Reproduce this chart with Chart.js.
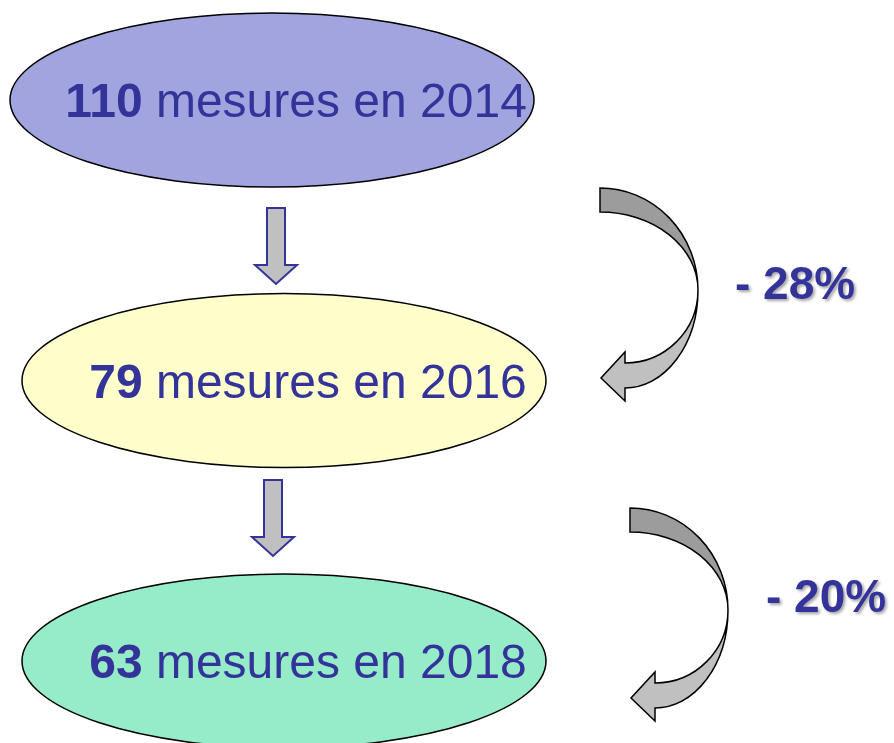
<!DOCTYPE html>
<html>
<head>
<meta charset="utf-8">
<script src="https://cdn.jsdelivr.net/npm/chart.js@4/dist/chart.umd.min.js"></script>
<style>
    body { margin: 0; background: #ffffff; }
    canvas { display: block; }
</style>
</head>
<body>
<canvas id="diagram-chart" width="894" height="743"></canvas>
<script>
// Values
const years = ["2014", "2016", "2018"];
const counts = [110, 79, 63];
const changes = [-28, -20];

// Layout of the diagram (pixels on the hidden x scale)
const node_x = [272, 284, 284];
const node_rx = 262;
const node_ry = 87;
const node_fill = ["#a2a4e0", "#ffffcc", "#96ecc8"];
const text_color = "#333399";
const font_family = "'Liberation Sans', Arial, sans-serif";

// Straight arrows between the ellipses: centre x, top y, tip y
const down_arrows = [[276, 208, 284], [273, 480, 556]];
// Curved arrows: top-left corner of each arrow
const curved_arrows = [[600, 188], [630, 508]];
// Percentage labels: left x, baseline y
const change_labels = [[735, 299], [766, 612]];

function draw_down_arrow(ctx, cx, top, tip) {
    const shaft = 9;
    const head = 21;
    const head_len = 19;
    ctx.beginPath();
    ctx.moveTo(cx - shaft, top);
    ctx.lineTo(cx + shaft, top);
    ctx.lineTo(cx + shaft, tip - head_len);
    ctx.lineTo(cx + head, tip - head_len);
    ctx.lineTo(cx, tip);
    ctx.lineTo(cx - head, tip - head_len);
    ctx.lineTo(cx - shaft, tip - head_len);
    ctx.closePath();
    ctx.fillStyle = "#c0c0c0";
    ctx.fill();
    ctx.lineWidth = 2;
    ctx.strokeStyle = "#333399";
    ctx.stroke();
}

function draw_curved_arrow(ctx, ox, oy) {
    ctx.lineWidth = 1.5;
    ctx.strokeStyle = "#000000";
    ctx.lineJoin = "miter";

    // lower, lighter half with the arrow head
    ctx.beginPath();
    ctx.moveTo(ox + 98, oy + 102);
    ctx.ellipse(ox + 25, oy + 102, 73, 98, 0, 0, Math.PI / 2, false);
    ctx.lineTo(ox + 25, oy + 213);
    ctx.lineTo(ox + 1, oy + 190);
    ctx.lineTo(ox + 25, oy + 164);
    ctx.lineTo(ox + 25, oy + 175);
    ctx.ellipse(ox + 25, oy + 102, 73, 73, 0, Math.PI / 2, 0, true);
    ctx.closePath();
    ctx.fillStyle = "#c0c0c0";
    ctx.fill();
    ctx.stroke();

    // upper, darker half
    ctx.beginPath();
    ctx.moveTo(ox, oy);
    ctx.ellipse(ox, oy + 102, 98, 102, 0, -Math.PI / 2, 0, false);
    ctx.ellipse(ox, oy + 102, 98, 78, 0, 0, -Math.PI / 2, true);
    ctx.closePath();
    ctx.fillStyle = "#9c9c9c";
    ctx.fill();
    ctx.stroke();
}

// Plugin that draws the ellipses, arrows and texts at the dataset points
const diagram_plugin = {
    id: "diagram",
    afterDatasetsDraw(chart) {
        const ctx = chart.ctx;
        const x_scale = chart.scales.x;
        const points = chart.getDatasetMeta(0).data;

        ctx.save();

        // Ellipses with their texts
        points.forEach((point, i) => {
            ctx.beginPath();
            ctx.ellipse(point.x, point.y, node_rx, node_ry, 0, 0, Math.PI * 2);
            ctx.fillStyle = node_fill[i];
            ctx.fill();
            ctx.lineWidth = 1.5;
            ctx.strokeStyle = "#000000";
            ctx.stroke();

            const bold_text = String(counts[i]);
            const plain_text = " mesures en " + years[i];
            ctx.font = "bold 48px " + font_family;
            const bold_width = ctx.measureText(bold_text).width;
            ctx.font = "48px " + font_family;
            const plain_width = ctx.measureText(plain_text).width;
            const start_x = point.x + 24 - (bold_width + plain_width) / 2;
            const base_y = point.y + 17;

            ctx.fillStyle = text_color;
            ctx.textBaseline = "alphabetic";
            ctx.textAlign = "left";
            ctx.font = "bold 48px " + font_family;
            ctx.fillText(bold_text, start_x, base_y);
            ctx.font = "48px " + font_family;
            ctx.fillText(plain_text, start_x + bold_width, base_y);
        });

        // Straight arrows between the ellipses
        down_arrows.forEach(([ax, top, tip]) => {
            draw_down_arrow(ctx, x_scale.getPixelForValue(ax), top, tip);
        });

        // Curved arrows and percentage changes
        curved_arrows.forEach(([ax, ay], i) => {
            draw_curved_arrow(ctx, x_scale.getPixelForValue(ax), ay);

            const [lx, ly] = change_labels[i];
            ctx.save();
            ctx.shadowColor = "rgba(0, 0, 0, 0.35)";
            ctx.shadowOffsetX = 2;
            ctx.shadowOffsetY = 2;
            ctx.shadowBlur = 3;
            ctx.fillStyle = text_color;
            ctx.font = "bold 46px " + font_family;
            ctx.textAlign = "left";
            ctx.textBaseline = "alphabetic";
            ctx.fillText("- " + Math.abs(changes[i]) + "%", x_scale.getPixelForValue(lx), ly);
            ctx.restore();
        });

        ctx.restore();
    }
};

const diagram_ctx = document.getElementById("diagram-chart").getContext("2d");

const config = {
    type: "scatter",
    data: {
        datasets: [{
            data: years.map((year, i) => ({ x: node_x[i], y: year })),
            pointRadius: 0,
            pointHoverRadius: 0
        }]
    },
    options: {
        responsive: false,
        animation: false,
        events: [],
        layout: {
            padding: { top: 100, bottom: 82, left: 0, right: 0 }
        },
        scales: {
            x: { type: "linear", min: 0, max: 894, display: false },
            y: { type: "category", labels: years, offset: false, display: false }
        },
        plugins: {
            legend: { display: false },
            tooltip: { enabled: false }
        }
    },
    plugins: [diagram_plugin]
};

const diagram_chart = new Chart(diagram_ctx, config);
</script>
</body>
</html>
